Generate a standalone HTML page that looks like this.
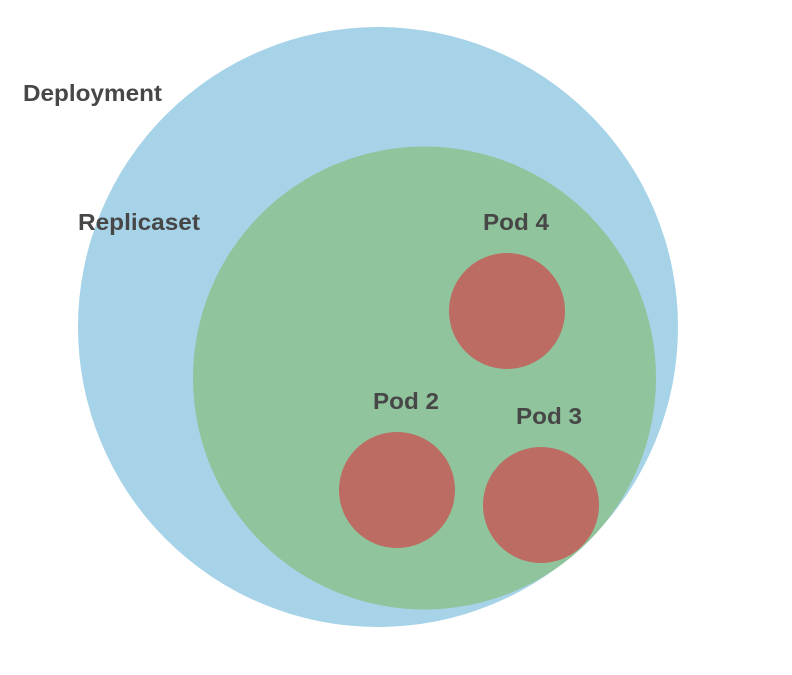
<!DOCTYPE html>
<html><head><meta charset="utf-8"><style>
html,body{margin:0;padding:0;background:#fff;}
svg text{font-family:"Liberation Sans",sans-serif;font-weight:bold;fill:#474747;font-size:23px;}
</style></head><body>
<svg width="792" height="670" viewBox="0 0 792 670">
<circle cx="378" cy="327" r="300" fill="#a6d3e8"/>
<circle cx="424.5" cy="378" r="231.5" fill="#90c49c"/>
<circle cx="507" cy="311" r="58" fill="#bc6c62"/>
<circle cx="397" cy="490" r="58" fill="#bc6c62"/>
<circle cx="541" cy="505" r="58" fill="#bc6c62"/>
<text x="23" y="101" textLength="139" lengthAdjust="spacingAndGlyphs">Deployment</text>
<text x="78" y="230" textLength="122" lengthAdjust="spacingAndGlyphs">Replicaset</text>
<text x="483" y="230" textLength="66" lengthAdjust="spacingAndGlyphs">Pod 4</text>
<text x="373" y="409" textLength="66" lengthAdjust="spacingAndGlyphs">Pod 2</text>
<text x="516" y="424" textLength="66" lengthAdjust="spacingAndGlyphs">Pod 3</text>
</svg>
</body></html>
